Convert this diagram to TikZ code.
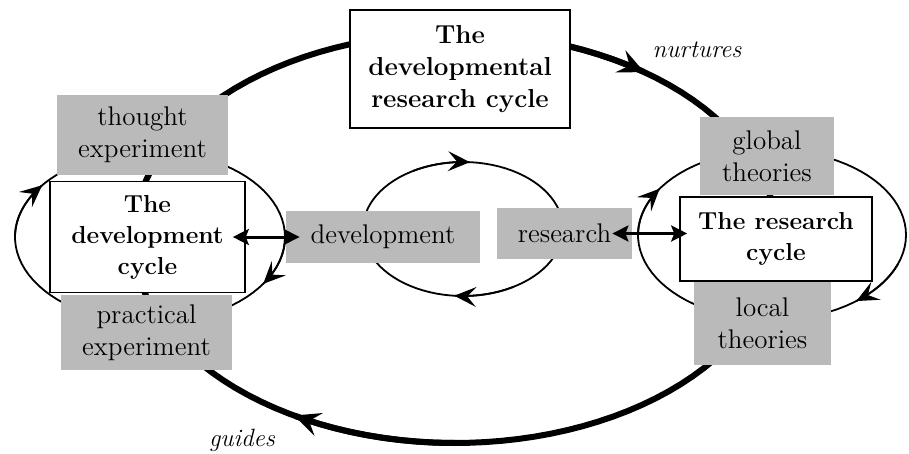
\documentclass[tikz,border=0pt]{standalone}
\usepackage{fontspec}
\usepackage{tikz}
\usetikzlibrary{arrows.meta}
\usetikzlibrary{calc}

\begin{document}
\begin{tikzpicture}[x=0.5pt,y=-0.5pt,
    graybox/.style={fill=black!27,inner sep=0pt,align=center,font=\fontsize{13.5}{16}\selectfont},
    whitebox/.style={draw,fill=white,line width=0.8pt,inner sep=0pt,align=center,font=\fontsize{12.3}{15.5}\selectfont\bfseries},
    verb/.style={font=\fontsize{12.5}{15}\selectfont\itshape},
    thinloop/.style={line width=0.9pt,samples=90},
    bigloop/.style={line width=3pt,samples=120},
    loopend/.style={-{Stealth[length=11pt,width=10pt,inset=4.5pt]}},
    bigend/.style={-{Stealth[length=13pt,width=12pt,inset=5pt]}},
    dbl/.style={{Stealth[length=8pt,width=8pt,inset=1.5pt]}-{Stealth[length=8pt,width=8pt,inset=1.5pt]},line width=1.5pt}]
  \useasboundingbox (0,0) rectangle (909,454);
  % outer cycle
  \draw[bigloop,domain=0:360] plot ({455+322*cos(\x)},{238+205*sin(\x)});
  \draw[bigloop,bigend,domain=270:306] plot ({455+322*cos(\x)},{238+205*sin(\x)});
  \draw[bigloop,bigend,domain=90:120] plot ({455+322*cos(\x)},{238+205*sin(\x)});
  % left cycle
  \draw[thinloop,domain=0:360] plot ({150+135*cos(\x)},{237+86*sin(\x)});
  \draw[thinloop,loopend,domain=180:217] plot ({150+135*cos(\x)},{237+86*sin(\x)});
  \draw[thinloop,loopend,domain=0:33] plot ({150+135*cos(\x)},{237+86*sin(\x)});
  % middle cycle
  \draw[thinloop,domain=0:360] plot ({463+100*cos(\x)},{229+67*sin(\x)});
  \draw[thinloop,loopend,domain=240:274] plot ({463+100*cos(\x)},{229+67*sin(\x)});
  \draw[thinloop,loopend,domain=60:95] plot ({463+100*cos(\x)},{229+67*sin(\x)});
  % right cycle
  \draw[thinloop,domain=0:360] plot ({772+134*cos(\x)},{235+85*sin(\x)});
  \draw[thinloop,loopend,domain=180:213] plot ({772+134*cos(\x)},{235+85*sin(\x)});
  \draw[thinloop,loopend,domain=20:51] plot ({772+134*cos(\x)},{235+85*sin(\x)});

  \node[whitebox,minimum width=110pt,minimum height=59pt,font=\fontsize{13}{16}\selectfont\bfseries] (drc) at (460,69) {The\\developmental\\research cycle};
  \node[verb] (nurt) at (697,50) {nurtures};
  \node[verb] (guid) at (242,440) {guides};

  \node[graybox,minimum width=85.5pt,minimum height=40pt] (thought) at (142.5,135) {thought\\experiment};
  \node[graybox,minimum width=85.5pt,minimum height=37.5pt] (practical) at (146.5,332.5) {practical\\experiment};
  \node[whitebox,minimum width=97.5pt,minimum height=55.5pt] (devcyc) at (147.5,237) {The\\development\\cycle};

  \node[graybox,minimum width=97pt,minimum height=25.5pt] (devel) at (383,237) {development};
  \node[graybox,minimum width=67.5pt,minimum height=25.5pt] (resrch) at (564.5,233.5) {research};

  \node[graybox,minimum width=67pt,minimum height=39pt] (global) at (767,156) {global\\theories};
  \node[graybox,minimum width=68.5pt,minimum height=41.5pt] (local) at (762.5,323.5) {local\\theories};
  \node[whitebox,minimum width=96pt,minimum height=42pt] (rescyc) at (776,239) {The research\\cycle};

  \draw[dbl] ([xshift=-6.5pt]devcyc.east) -- ([xshift=7pt]devel.west);
  \draw[dbl] ([xshift=-10pt]resrch.east) -- ([xshift=4pt]resrch.east -| rescyc.west);
\end{tikzpicture}
\end{document}
